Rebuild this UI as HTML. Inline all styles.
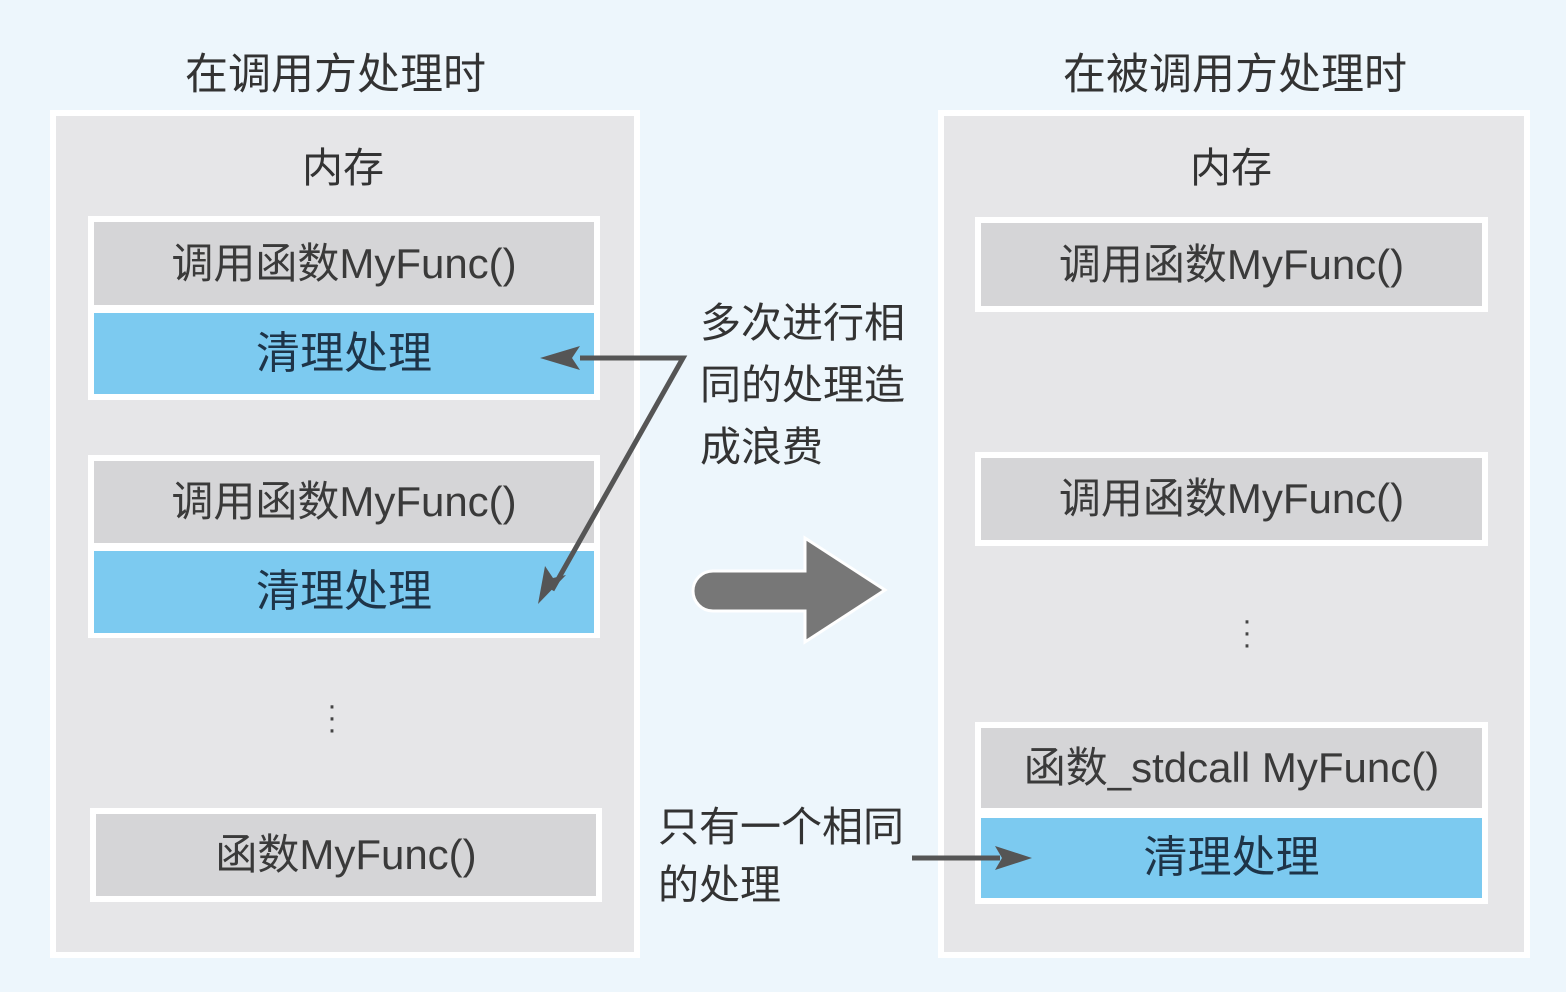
<!DOCTYPE html>
<html><head><meta charset="utf-8"><style>
body{margin:0;width:1566px;height:992px;background:#edf6fc;position:relative;overflow:hidden;font-family:"Liberation Sans","Noto Sans CJK SC",sans-serif;color:#333}
div{position:absolute;box-sizing:border-box}
.panel{background:#e6e6e8;border:6px solid #fff}
.g{background:#d5d5d7;text-align:center;font-size:42px;color:#3a3a3a;white-space:nowrap}
.b{background:#7ccaf0;text-align:center;font-size:44px;color:#1e3448}
.w{background:#fff}
.t{font-size:41px;color:#333;white-space:nowrap}
.dots{font-size:30px;line-height:12px;color:#444;text-align:center;width:20px}
</style></head><body>
<div class="t" style="left:185px;top:40px;font-size:43px">在调用方处理时</div>
<div class="t" style="left:1063px;top:40px;font-size:43px">在被调用方处理时</div>

<div class="panel" style="left:50px;top:110px;width:590px;height:848px"></div>
<div class="panel" style="left:938px;top:110px;width:592px;height:848px"></div>
<div class="t" style="left:302px;top:134px;">内存</div>
<div class="t" style="left:1190px;top:134px;">内存</div>

<div class="w" style="left:88px;top:216px;width:512px;height:184px"></div>
<div class="g" style="left:94px;top:222px;width:500px;height:83px;line-height:83px">调用函数MyFunc()</div>
<div class="b" style="left:94px;top:313px;width:500px;height:81px;line-height:81px">清理处理</div>
<div class="w" style="left:88px;top:455px;width:512px;height:183px"></div>
<div class="g" style="left:94px;top:461px;width:500px;height:82px;line-height:82px">调用函数MyFunc()</div>
<div class="b" style="left:94px;top:551px;width:500px;height:82px;line-height:82px">清理处理</div>
<div class="dots" style="left:322px;top:700px">·<br>·<br>·</div>
<div class="w" style="left:90px;top:808px;width:512px;height:94px"></div>
<div class="g" style="left:96px;top:814px;width:500px;height:82px;line-height:82px">函数MyFunc()</div>

<div class="w" style="left:975px;top:217px;width:513px;height:95px"></div>
<div class="g" style="left:981px;top:223px;width:501px;height:83px;line-height:83px">调用函数MyFunc()</div>
<div class="w" style="left:975px;top:452px;width:513px;height:94px"></div>
<div class="g" style="left:981px;top:458px;width:501px;height:82px;line-height:82px">调用函数MyFunc()</div>
<div class="dots" style="left:1237px;top:615px">·<br>·<br>·</div>
<div class="w" style="left:975px;top:722px;width:513px;height:182px"></div>
<div class="g" style="left:981px;top:728px;width:501px;height:80px;line-height:80px">函数_stdcall MyFunc()</div>
<div class="b" style="left:981px;top:818px;width:501px;height:80px;line-height:80px">清理处理</div>

<div class="t" style="left:700px;top:292px;line-height:62px">多次进行相<br>同的处理造<br>成浪费</div>
<div class="t" style="left:658px;top:798px;line-height:58px">只有一个相同<br>的处理</div>

<svg style="position:absolute;left:0;top:0" width="1566" height="992">
<g stroke="#555" stroke-width="5" fill="none">
<polyline points="580,358 683,358 552,590"/>
<line x1="912" y1="858" x2="1000" y2="858"/>
</g>
<polygon points="540,358 580,346 572,358 580,370" fill="#555"/>
<polygon points="538,604 545,566 553,578 566,575" fill="#555"/>
<polygon points="1032,858 995,846 1002,858 995,870" fill="#555"/>
<path d="M713,571 H805 V538 L885,590 L805,642 V611 H713 A20,20 0 0 1 713,571 Z" fill="#777" stroke="#fff" stroke-width="3"/>
</svg>
</body></html>
